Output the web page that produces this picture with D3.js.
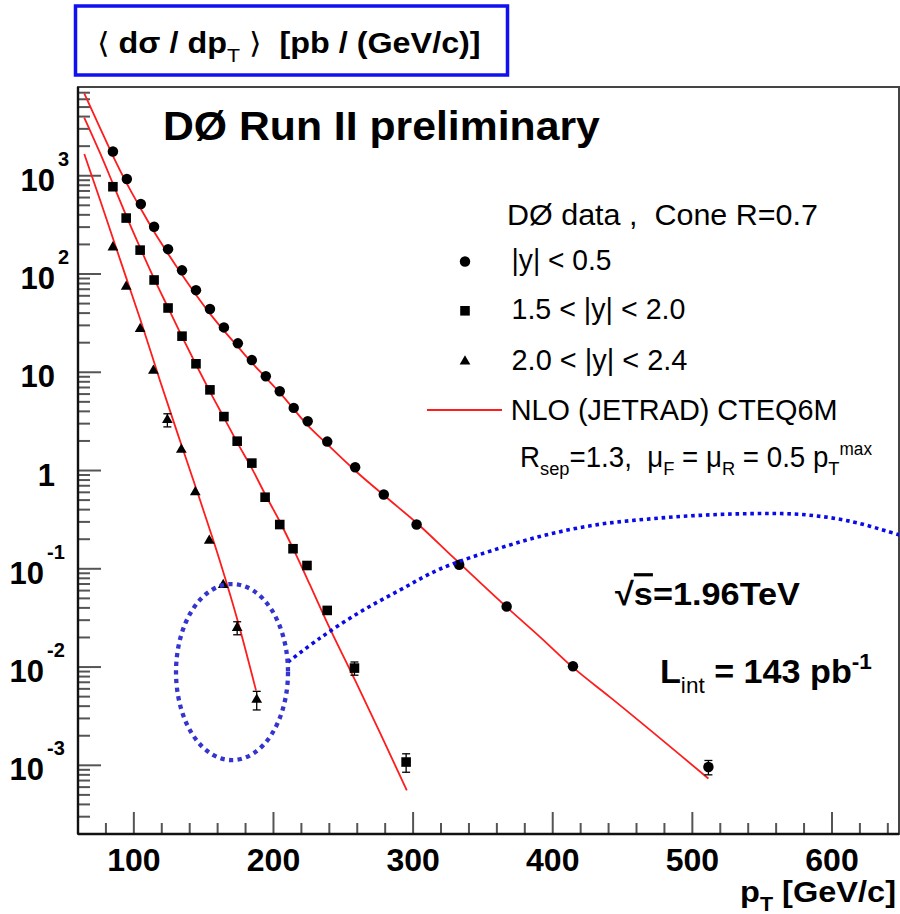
<!DOCTYPE html>
<html>
<head>
<meta charset="utf-8">
<script src="https://cdn.jsdelivr.net/npm/d3@7"></script>
<style>
  html, body { margin: 0; padding: 0; background: #fff; }
  svg { display: block; font-family: "Liberation Sans", Arial, Helvetica, sans-serif; }
  text { white-space: pre; }
</style>
</head>
<body>
<svg id="chart" width="900" height="914"></svg>
<script>
// ── Data ──────────────────────────────────────────────────────────────
// |y| < 0.5
const ptCentral  = [85, 95, 105, 114.5, 124.5, 134.5, 144.5, 154.5, 164.5, 174.5, 184.5, 194.5, 204.5, 214.5, 224.5, 238.5, 258.5, 279, 302.5, 333, 367, 414.5, 511.5];
const xsCentral  = [1766, 925, 515, 303, 179, 109, 68.5, 44.1, 28.6, 19.7, 13.3, 9.1, 6.4, 4.34, 3.17, 1.97, 1.08, 0.57, 0.282, 0.110, 0.0414, 0.0102, 0.00096];
const errCentral = [0, 0, 0, 0, 0, 0, 0, 0, 0, 0, 0, 0, 0, 0, 0, 0, 0, 0, 0, 0, 0, 0.0006, 0.00016];

// 1.5 < |y| < 2.0
const ptForward  = [85, 94.5, 104.5, 114.5, 124.5, 134.5, 144.5, 154.5, 164.5, 174, 184.5, 194, 204.5, 214, 224, 238.5, 258, 295];
const xsForward  = [773, 371, 175, 86.9, 45.1, 23.3, 12.2, 6.62, 3.54, 1.99, 1.19, 0.535, 0.282, 0.160, 0.108, 0.0377, 0.00976, 0.00108];
const errForward = [0, 0, 0, 0, 0, 0, 0, 0, 0, 0, 0, 0, 0, 0, 0, 0.002, 0.0015, 0.00023];

// 2.0 < |y| < 2.4
const ptFar  = [85, 94.5, 104.5, 114, 124, 134, 144, 154, 164, 174, 188];
const xsFar  = [187, 74.3, 27.6, 10.4, 3.28, 1.63, 0.601, 0.193, 0.0684, 0.0251, 0.00466];
const errFar = [0, 0, 0, 0, 0.5, 0, 0, 0, 0, 0.0038, 0.0010];

// NLO (JETRAD) CTEQ6M curves
const nloPt1 = [64.5, 76, 85, 95, 105, 114.5, 124.5, 134.5, 144.5, 154.5, 164.5, 174.5, 184.5, 194.5, 204.5, 224, 238, 260, 281, 303, 329, 367, 391, 414.5, 441, 511.5];
const nloXs1 = [6870, 3020, 1596, 830, 461, 269, 161, 98.4, 61.6, 39.5, 26.5, 18.2, 12.5, 8.83, 6.21, 2.94, 1.88, 0.955, 0.531, 0.289, 0.1297, 0.0407, 0.0202, 0.00991, 0.00494, 0.000733];
const nloPt2 = [64.5, 76, 85, 94.5, 104.5, 114.5, 124.5, 134.5, 144.5, 154.5, 164.5, 174.5, 184.5, 194.5, 204.5, 214, 226, 238, 258.5, 276.5, 295.5];
const nloXs2 = [3900, 1675, 830, 392, 185, 89.7, 45.5, 23.1, 12.0, 6.36, 3.46, 1.88, 1.05, 0.557, 0.303, 0.161, 0.0693, 0.0292, 0.00731, 0.00211, 0.000557];
const nloPt3 = [64.5, 76, 85, 94.5, 104.5, 118.5, 133, 147.5, 161.5, 174.5, 187.5];
const nloXs3 = [1663, 557, 231, 91.8, 34.9, 8.41, 2.02, 0.495, 0.1216, 0.0291, 0.00579];

// blue call-out: ellipse round the last forward points, dotted arc to the right
const ringPt = 170.3, ringXs = 0.00889, ringDPt = 40.1, ringDDec = 0.896;
const arcPt = [210.4, 233.3, 262, 290.6, 319.3, 362.2, 398, 433.8, 469.7, 505.5, 541.3, 577.1, 612.9, 648.7];
const arcXs = [0.01125, 0.0197, 0.0363, 0.0608, 0.0995, 0.1626, 0.226, 0.284, 0.322, 0.350, 0.364, 0.358, 0.305, 0.220];

// axes
const xMajor = [100, 200, 300, 400, 500, 600];
const xMinor = d3.range(80, 648, 20).filter(v => v % 100 !== 0);
const yMajor = [1e-3, 1e-2, 1e-1, 1, 10, 1e2, 1e3];
const yBase  = ["10", "10", "10", "1", "10", "10", "10"];
const yExp   = ["-3", "-2", "-1", "", "", "2", "3"];

// ── Layout ────────────────────────────────────────────────────────────
const frame = { left: 78, right: 899, top: 87, bottom: 834 };
const svg = d3.select("#chart");

const x = d3.scaleLinear().domain([60, 648]).range([frame.left, frame.right]);
const y = d3.scaleLog().domain([2e-4, 8e3]).range([frame.bottom, frame.top]);

svg.append("rect").attr("width", 900).attr("height", 914).attr("fill", "#fff");

svg.append("defs").append("clipPath").attr("id", "plotClip")
    .append("rect")
    .attr("x", frame.left).attr("y", frame.top)
    .attr("width", frame.right - frame.left).attr("height", frame.bottom - frame.top);

// text helper: parts with optional sub/sup, stretched to a target width
function label(parent, o) {
    const g = parent.append("g").attr("transform", `translate(${o.x},${o.y})`);
    const t = g.append("text")
        .attr("font-size", o.size).attr("font-weight", o.weight || "normal")
        .attr("text-anchor", o.anchor || "start").attr("fill", "#000");
    let shift = 0;
    o.parts.forEach(p => {
        const s = t.append("tspan").text(p.t);
        const want = p.sub ? o.size * 0.3 : p.sup ? -o.size * 0.42 : 0;
        if (want !== shift) { s.attr("dy", want - shift); shift = want; }
        if (p.sub || p.sup) s.attr("font-size", o.size * (p.scale || 0.66));
        if (p.w) s.attr("font-weight", p.w);
        if (p.over) s.style("text-decoration", "overline");
    });
    if (o.width) {
        const w0 = t.node().getComputedTextLength();
        if (w0 > 0) t.attr("transform", `scale(${o.width / w0},1)`);
    }
    return g;
}

// ── Frame & ticks ─────────────────────────────────────────────────────
svg.append("rect")
    .attr("x", frame.left).attr("y", frame.top)
    .attr("width", frame.right - frame.left).attr("height", frame.bottom - frame.top)
    .attr("fill", "none").attr("stroke", "#444").attr("stroke-width", 2);

const ticks = svg.append("g").attr("stroke", "#555").attr("stroke-width", 2);
xMajor.forEach(v => ticks.append("line")
    .attr("x1", x(v)).attr("x2", x(v)).attr("y1", frame.bottom).attr("y2", frame.bottom - 22));
xMinor.forEach(v => ticks.append("line")
    .attr("x1", x(v)).attr("x2", x(v)).attr("y1", frame.bottom).attr("y2", frame.bottom - 11));

const yMinor = [];
d3.range(-4, 4).forEach(e => d3.range(2, 10).forEach(k => {
    const v = k * Math.pow(10, e);
    if (v > y.domain()[0] && v < y.domain()[1]) yMinor.push(v);
}));
yMajor.forEach(v => ticks.append("line")
    .attr("x1", frame.left).attr("x2", frame.left + 23).attr("y1", y(v)).attr("y2", y(v)));
yMinor.forEach(v => ticks.append("line")
    .attr("x1", frame.left).attr("x2", frame.left + 12).attr("y1", y(v)).attr("y2", y(v)));

svg.append("line").attr("x1", frame.left).attr("x2", frame.left)
    .attr("y1", frame.top).attr("y2", frame.bottom).attr("stroke", "#111").attr("stroke-width", 2.4);
svg.append("line").attr("x1", frame.left).attr("x2", frame.right)
    .attr("y1", frame.bottom).attr("y2", frame.bottom).attr("stroke", "#111").attr("stroke-width", 2.4);

// tick labels
xMajor.forEach(v => label(svg, { x: x(v), y: 871, anchor: "middle", size: 32, weight: "bold", parts: [{ t: String(v) }] }));

yMajor.forEach((v, i) => {
    const neg = yExp[i].startsWith("-");
    const baseEnd = yExp[i] === "" ? 55 : (neg ? 44 : 55);
    label(svg, { x: baseEnd, y: y(v) + 15, anchor: "end", size: 31, weight: "bold", parts: [{ t: yBase[i] }] });
    if (yExp[i]) label(svg, { x: baseEnd + 3, y: y(v) - 10, size: 20, weight: "bold", parts: [{ t: yExp[i] }] });
});

// axis titles
label(svg, { x: 896, y: 902, anchor: "end", size: 30, weight: "bold", width: 156,
    parts: [{ t: "p" }, { t: "T", sub: true }, { t: " [GeV/c]" }] });

svg.append("rect").attr("x", 75.5).attr("y", 6).attr("width", 432).attr("height", 69)
    .attr("fill", "#fff").attr("stroke", "#1010f0").attr("stroke-width", 3.5);
label(svg, { x: 97, y: 53, size: 29, weight: "bold", width: 383,
    parts: [{ t: "\u27E8 ", w: "normal" }, { t: "d\u03C3 / dp" }, { t: "T", sub: true, w: "normal" },
            { t: " \u27E9  ", w: "normal" }, { t: "[pb / (GeV/c)]" }] });

// ── Curves ────────────────────────────────────────────────────────────
const plot = svg.append("g").attr("clip-path", "url(#plotClip)");
const line = d3.line().x(d => x(d[0])).y(d => y(d[1])).curve(d3.curveMonotoneX);

[[nloPt1, nloXs1], [nloPt2, nloXs2], [nloPt3, nloXs3]].forEach(([pt, xs]) => {
    plot.append("path").datum(d3.zip(pt, xs)).attr("d", line)
        .attr("fill", "none").attr("stroke", "#ff1c1c").attr("stroke-width", 1.8);
});

// ── Data points ───────────────────────────────────────────────────────
const series = [
    { pt: ptCentral, xs: xsCentral, err: errCentral, sym: d3.symbolCircle, size: 86 },
    { pt: ptForward, xs: xsForward, err: errForward, sym: d3.symbolSquare, size: 92 },
    { pt: ptFar, xs: xsFar, err: errFar, sym: d3.symbolTriangle, size: 50 }
];

series.forEach(s => {
    const pts = d3.zip(s.pt, s.xs, s.err);
    const eb = plot.append("g").attr("stroke", "#000").attr("stroke-width", 1.3);
    pts.filter(d => d[2] > 0).forEach(d => {
        const cx = x(d[0]), y0 = y(d[1] - d[2]), y1 = y(d[1] + d[2]);
        eb.append("line").attr("x1", cx).attr("x2", cx).attr("y1", y0).attr("y2", y1);
        eb.append("line").attr("x1", cx - 4).attr("x2", cx + 4).attr("y1", y0).attr("y2", y0);
        eb.append("line").attr("x1", cx - 4).attr("x2", cx + 4).attr("y1", y1).attr("y2", y1);
    });
    plot.append("g").selectAll("path").data(pts).join("path")
        .attr("transform", d => `translate(${x(d[0])},${y(d[1])})`)
        .attr("d", d3.symbol(s.sym, s.size)).attr("fill", "#000");
});

// ── Blue call-out ─────────────────────────────────────────────────────
const rcx = x(ringPt), rcy = y(ringXs);
svg.append("ellipse")
    .attr("cx", rcx).attr("cy", rcy)
    .attr("rx", x(ringPt + ringDPt) - rcx)
    .attr("ry", y(ringXs / Math.pow(10, ringDDec)) - rcy)
    .attr("fill", "none").attr("stroke", "#3434cf").attr("stroke-width", 4.3)
    .attr("stroke-dasharray", "4.3 4.4");

plot.append("path").datum(d3.zip(arcPt, arcXs))
    .attr("d", d3.line().x(d => x(d[0])).y(d => y(d[1])).curve(d3.curveCatmullRom))
    .attr("fill", "none").attr("stroke", "#0a0ae8").attr("stroke-width", 3.6)
    .attr("stroke-dasharray", "3.6 3.8");

// ── Texts inside the frame ────────────────────────────────────────────
label(svg, { x: 163, y: 140, size: 40, weight: "bold", width: 437, parts: [{ t: "D\u00D8 Run II preliminary" }] });

label(svg, { x: 507, y: 225, size: 29, width: 311, parts: [{ t: "D\u00D8 data ,  Cone R=0.7" }] });
const legendRows = [
    { y: 270,   text: "|y| < 0.5",       w: 100, sym: d3.symbolCircle,   size: 86 },
    { y: 319.3, text: "1.5 < |y| < 2.0", w: 174, sym: d3.symbolSquare,   size: 92 },
    { y: 370,   text: "2.0 < |y| < 2.4", w: 176, sym: d3.symbolTriangle, size: 50 }
];
legendRows.forEach(r => {
    svg.append("path").attr("transform", `translate(465,${r.y - 8.5})`)
        .attr("d", d3.symbol(r.sym, r.size)).attr("fill", "#000");
    label(svg, { x: 511.5, y: r.y, size: 29, width: r.w, parts: [{ t: r.text }] });
});
svg.append("line").attr("x1", 427).attr("x2", 502).attr("y1", 410).attr("y2", 410)
    .attr("stroke", "#ff1c1c").attr("stroke-width", 1.8);
label(svg, { x: 510.7, y: 420, size: 29, width: 327, parts: [{ t: "NLO (JETRAD) CTEQ6M" }] });
label(svg, { x: 520, y: 466.7, size: 29, width: 352,
    parts: [{ t: "R" }, { t: "sep", sub: true }, { t: "=1.3,  \u03BC" }, { t: "F", sub: true },
            { t: " = \u03BC" }, { t: "R", sub: true }, { t: " = 0.5 p" }, { t: "T", sub: true },
            { t: "max", sup: true, scale: 0.62 }] });

label(svg, { x: 615, y: 605, size: 32, weight: "bold", width: 185,
    parts: [{ t: "\u221A" }, { t: "s", over: true }, { t: "=1.96TeV" }] });
label(svg, { x: 660, y: 683, size: 33, weight: "bold", width: 212,
    parts: [{ t: "L" }, { t: "int", sub: true, w: "normal" }, { t: " = 143 pb" }, { t: "-1", sup: true }] });
</script>
</body>
</html>
